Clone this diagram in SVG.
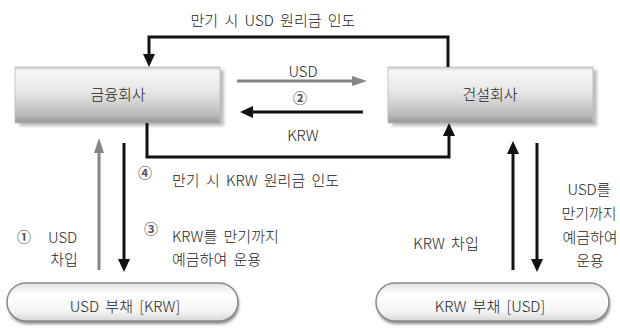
<svg xmlns="http://www.w3.org/2000/svg" width="620" height="331" viewBox="0 0 620 331">
<style>
text{font-family:"Noto Sans CJK KR","Noto Sans",sans-serif;font-size:15px;font-weight:300;fill:#222;dominant-baseline:central;word-spacing:3px}
.m{text-anchor:middle}
.num{font-size:14px;font-weight:700;fill:#555}
.blk{fill:none;stroke:#111;stroke-width:3}
.gry{fill:none;stroke:#858585;stroke-width:3}
</style>
<defs>
<linearGradient id="boxG" x1="0" y1="0" x2="0" y2="1">
<stop offset="0" stop-color="#c8c8c8"/>
<stop offset="0.07" stop-color="#f7f7f7"/>
<stop offset="0.45" stop-color="#e6e6e6"/>
<stop offset="0.85" stop-color="#bcbcbc"/>
<stop offset="1" stop-color="#969696"/>
</linearGradient>
<linearGradient id="pillG" x1="0" y1="0" x2="0" y2="1">
<stop offset="0" stop-color="#e2e2e2"/>
<stop offset="0.3" stop-color="#ffffff"/>
<stop offset="0.75" stop-color="#f4f4f4"/>
<stop offset="1" stop-color="#d6d6d6"/>
</linearGradient>
<filter id="sh" x="-10%" y="-20%" width="130%" height="150%">
<feGaussianBlur stdDeviation="1.5"/>
</filter>
<marker id="aB" markerUnits="userSpaceOnUse" markerWidth="14" markerHeight="13" refX="9" refY="6" orient="auto">
<path d="M0,0 L13,6 L0,12 z" fill="#111"/>
</marker>
<marker id="aG" markerUnits="userSpaceOnUse" markerWidth="16" markerHeight="13" refX="10" refY="5" orient="auto">
<path d="M0,0 L15,5 L0,10 z" fill="#858585"/>
</marker>
</defs>

<g id="node-finance">
<rect x="19" y="70" width="205" height="56" fill="#bdbdbd" filter="url(#sh)"/>
<rect x="15" y="67" width="205" height="56" fill="url(#boxG)" stroke="#bbbbbb" stroke-width="0.8"/>
<text class="m" x="118" y="93">금융회사</text>
</g>

<g id="node-construction">
<rect x="392" y="70" width="205" height="56" fill="#bdbdbd" filter="url(#sh)"/>
<rect x="388" y="67" width="205" height="56" fill="url(#boxG)" stroke="#bbbbbb" stroke-width="0.8"/>
<text class="m" x="490" y="93">건설회사</text>
</g>

<g id="node-usd-liability">
<rect x="8" y="285" width="231" height="39" rx="19" fill="#8a8a8a" filter="url(#sh)"/>
<rect x="7" y="283" width="231" height="38" rx="19" fill="url(#pillG)" stroke="#8a8a8a" stroke-width="1.5"/>
<text class="m" x="125" y="305">USD 부채 [KRW]</text>
</g>

<g id="node-krw-liability">
<rect x="377" y="285" width="233" height="39" rx="19" fill="#8a8a8a" filter="url(#sh)"/>
<rect x="376" y="283" width="233" height="38" rx="19" fill="url(#pillG)" stroke="#8a8a8a" stroke-width="1.5"/>
<text class="m" x="490" y="305">KRW 부채 [USD]</text>
</g>

<g id="connectors">
<path class="blk" d="M448,67 V37 H149 V63" marker-end="url(#aB)"/>
<path class="gry" d="M237,81 H362" marker-end="url(#aG)"/>
<path class="blk" d="M363,112 H244" marker-end="url(#aB)"/>
<path class="blk" d="M147,123 V157 H449 V127" marker-end="url(#aB)"/>
<path class="gry" d="M99,270 V143" marker-end="url(#aG)"/>
<path class="blk" d="M124,143 V268" marker-end="url(#aB)"/>
<path class="blk" d="M513,270 V145" marker-end="url(#aB)"/>
<path class="blk" d="M537,143 V268" marker-end="url(#aB)"/>
</g>

<g id="labels">
<text class="m" x="273" y="19">만기 시 USD 원리금 인도</text>
<text class="m" x="303" y="70">USD</text>
<text class="m num" x="300" y="97">②</text>
<text class="m" x="303" y="134">KRW</text>
<text class="m num" x="145" y="172">④</text>
<text x="172" y="179">만기 시 KRW 원리금 인도</text>
<text class="m num" x="151" y="228">③</text>
<text x="172" y="235">KRW를 만기까지</text>
<text x="172" y="258">예금하여 운용</text>
<text class="m num" x="24" y="236">①</text>
<text x="48" y="236">USD</text>
<text class="m" x="64" y="258">차입</text>
<text class="m" x="446" y="242">KRW 차입</text>
<text class="m" x="589" y="188">USD를</text>
<text class="m" x="589" y="212">만기까지</text>
<text class="m" x="590" y="236">예금하여</text>
<text class="m" x="590" y="259">운용</text>
</g>
</svg>
